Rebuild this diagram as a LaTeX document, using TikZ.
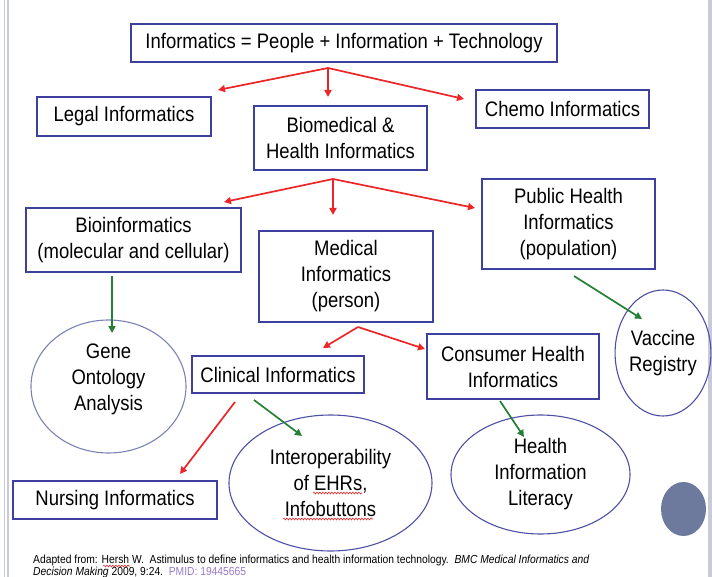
\documentclass[tikz,border=0pt]{standalone}
\usepackage{fontspec}
\setmainfont[FakeStretch=0.88]{Liberation Sans}
\usepackage{tikz}
\usetikzlibrary{arrows.meta,shapes.geometric,decorations.pathmorphing}

\definecolor{boxblue}{RGB}{62,64,158}
\definecolor{ovalblue}{RGB}{78,80,165}
\definecolor{genegray}{RGB}{125,130,182}
\definecolor{arrred}{RGB}{236,38,40}
\definecolor{arrgreen}{RGB}{36,128,52}
\definecolor{dotfill}{RGB}{110,121,158}
\definecolor{pmidpurple}{RGB}{150,122,200}
\definecolor{sidegray}{RGB}{200,202,216}
\definecolor{spellred}{RGB}{230,40,40}

\begin{document}
\begin{tikzpicture}[x=1pt,y=-1pt,
	box/.style={draw=boxblue,line width=1.3pt,align=center,inner sep=0pt,font=\fontsize{21}{26}\selectfont},
	oval/.style={ellipse,draw=ovalblue,line width=1.1pt,align=center,inner sep=0pt,font=\fontsize{21}{26}\selectfont},
	redarr/.style={draw=arrred,line width=1.7pt,-{Triangle[length=7pt,width=7pt]}},
	greenarr/.style={draw=arrgreen,line width=1.7pt,-{Triangle[length=7pt,width=7pt]}},
	spell/.style={draw=spellred,line width=0.6pt,decorate,decoration={snake,amplitude=0.9pt,segment length=3pt}}]
\useasboundingbox (0,0) rectangle (712,577);
	% slide edges
	\draw[sidegray,line width=1.4pt] (4.5,0) -- (4.5,577);
	\draw[sidegray,line width=1.8pt] (8,0) -- (8,577);
	\draw[sidegray,line width=4pt] (710,0) -- (710,577);
	% boxes
	\node[box,minimum width=426pt,minimum height=38pt] (top) at (344,43) {Informatics = People + Information + Technology};
	\node[box,minimum width=174pt,minimum height=39pt] (legal) at (124,116.5) {Legal Informatics};
	\node[box,minimum width=173pt,minimum height=64pt] (biomed) at (340.5,138) {Biomedical \&\\Health Informatics};
	\node[box,minimum width=173pt,minimum height=38pt] (chemo) at (562.5,109) {Chemo Informatics};
	\node[box,minimum width=215pt,minimum height=64pt] (bio) at (133.5,240) {Bioinformatics\\(molecular and cellular)};
	\node[box,minimum width=174pt,minimum height=91pt] (medical) at (346,276.5) {Medical\\Informatics\\(person)};
	\node[box,minimum width=173pt,minimum height=90pt] (public) at (568.5,224) {Public Health\\Informatics\\(population)};
	\node[box,minimum width=172pt,minimum height=37pt] (clinical) at (278,374.5) {Clinical Informatics};
	\node[box,minimum width=172pt,minimum height=65pt] (consumer) at (513,366.5) {Consumer Health\\Informatics};
	\node[box,minimum width=204pt,minimum height=38pt] (nursing) at (115,500) {Nursing Informatics};
	% ovals
	\node[oval,draw=genegray,minimum width=155pt,minimum height=133pt] (gene) at (108.5,386.5) {Gene\\Ontology\\Analysis\\[-7pt]};
	\node[oval,minimum width=90pt,minimum height=126pt] (vaccine) at (663,353) {Vaccine\\Registry};
	\node[oval,minimum width=203pt,minimum height=136pt] (interop) at (330.5,483) {Interoperability\\of EHRs,\\Infobuttons};
	\node[oval,minimum width=179pt,minimum height=119pt] (health) at (540.5,474.5) {Health\\Information\\Literacy};
	\node[ellipse,fill=dotfill,minimum width=45pt,minimum height=54pt,inner sep=0pt] (dot) at (683.5,509) {};
	% arrow ends
	\coordinate (s1) at (328,68);
	\coordinate (legalin) at (218,90);
	\coordinate (biomedin) at (328,97);
	\coordinate (chemoin) at (464,99);
	\coordinate (s2) at (333,179);
	\coordinate (bioin) at (224,202);
	\coordinate (medicalin) at (333,215);
	\coordinate (publicin) at (475,208);
	\coordinate (s3) at (358,327);
	\coordinate (clinicalin) at (323,348);
	\coordinate (consumerin) at (425,349);
	\coordinate (nurseout) at (235,402);
	\coordinate (nursein) at (180,474);
	\coordinate (bioout) at (112,276);
	\coordinate (genein) at (112,333);
	\coordinate (publicout) at (574,276);
	\coordinate (vaccinein) at (642,319);
	\coordinate (interout) at (254,400);
	\coordinate (interin) at (302,436);
	\coordinate (consumerout) at (500,401);
	\coordinate (healthin) at (524,437);
	% red arrows
	\draw[redarr] (s1) -- (legalin);
	\draw[redarr] (s1) -- (biomedin);
	\draw[redarr] (s1) -- (chemoin);
	\draw[redarr] (s2) -- (bioin);
	\draw[redarr] (s2) -- (medicalin);
	\draw[redarr] (s2) -- (publicin);
	\draw[redarr] (s3) -- (clinicalin);
	\draw[redarr] (s3) -- (consumerin);
	\draw[redarr] (nurseout) -- (nursein);
	% green arrows
	\draw[greenarr] (bioout) -- (genein);
	\draw[greenarr] (publicout) -- (vaccinein);
	\draw[greenarr] (interout) -- (interin);
	\draw[greenarr] (consumerout) -- (healthin);
	% reference
	\node[anchor=base west,align=left,inner sep=0pt,font=\fontsize{11.7}{12}\selectfont] (ref) at (33,575) {Adapted from: Hersh W.\ \ Astimulus to define informatics and health information technology.\ \ \textit{BMC Medical Informatics and}\\\textit{Decision Making} 2009, 9:24.\ \ \textcolor{pmidpurple}{PMID: 19445665}};
	% spelling marks
	\draw[spell] (103,566) -- (130,566);
	\draw[spell] (313,493) -- (362,493);
	\draw[spell] (283,519) -- (373,519);
\end{tikzpicture}
\end{document}
